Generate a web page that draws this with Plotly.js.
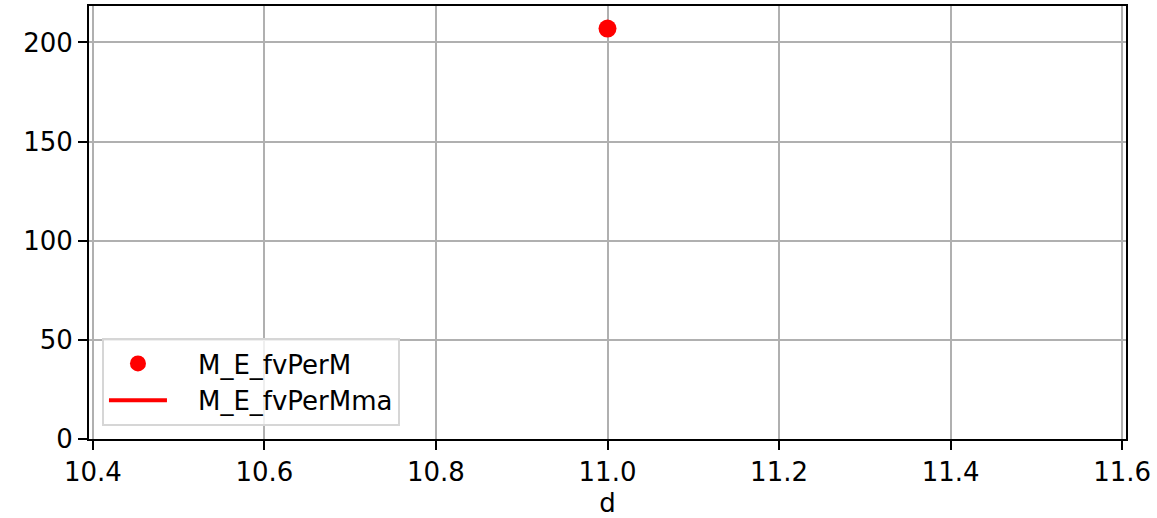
<!DOCTYPE html>
<html>
<head>
<meta charset="utf-8">
<script src="https://cdn.plot.ly/plotly-3.0.1.min.js"></script>
<style>html,body{margin:0;padding:0;background:#fff;}#chart{width:1157px;height:518px;}</style>
</head>
<body>
<div id="chart"></div>
<script>
const dValues = [11.0];
const fvPerM = [207];
const fvPerMma = [null];
const seriesNames = ["M_E_fvPerM", "M_E_fvPerMma"];
const xTicks = [10.4, 10.6, 10.8, 11.0, 11.2, 11.4, 11.6];
const xTickLabels = ["10.4", "10.6", "10.8", "11.0", "11.2", "11.4", "11.6"];
const yTicks = [0, 50, 100, 150, 200];
const yTickLabels = ["0", "50", "100", "150", "200"];

const font = {family: "DejaVu Sans", size: 26, color: "#000"};
const pad = "\u2003";

const traces = [
  {x: dValues, y: fvPerM, name: pad + seriesNames[0], type: "scatter", mode: "markers",
   marker: {color: "#ff0000", size: 18}},
  {x: dValues, y: fvPerMma, name: pad + seriesNames[1], type: "scatter", mode: "lines",
   line: {color: "#ff0000", width: 4}}
];

const axisCommon = {
  showline: true, linecolor: "#000", linewidth: 2, mirror: true,
  ticks: "outside", ticklen: 9, tickwidth: 2, tickcolor: "#000",
  showgrid: true, gridcolor: "#b0b0b0", gridwidth: 2,
  zeroline: false, tickfont: font
};

const layout = {
  width: 1157, height: 518,
  margin: {l: 89, r: 31, t: 6, b: 79},
  paper_bgcolor: "#fff", plot_bgcolor: "#fff",
  font: font,
  showlegend: true,
  xaxis: Object.assign({}, axisCommon, {
    range: [10.3955, 11.6045], tickmode: "array", tickvals: xTicks, ticktext: xTickLabels,
    title: {text: "d", font: font, standoff: 20}
  }),
  yaxis: Object.assign({}, axisCommon, {
    range: [0, 218.4], tickmode: "array", tickvals: yTicks, ticktext: yTickLabels
  }),
  legend: {
    x: 0.0125, y: 0.03, xanchor: "left", yanchor: "bottom",
    bgcolor: "rgba(255,255,255,0.8)", bordercolor: "#d6d6d6", borderwidth: 2,
    font: font, itemwidth: 58, tracegroupgap: 0
  }
};

Plotly.newPlot("chart", traces, layout, {displayModeBar: false, staticPlot: true});
</script>
</body>
</html>
